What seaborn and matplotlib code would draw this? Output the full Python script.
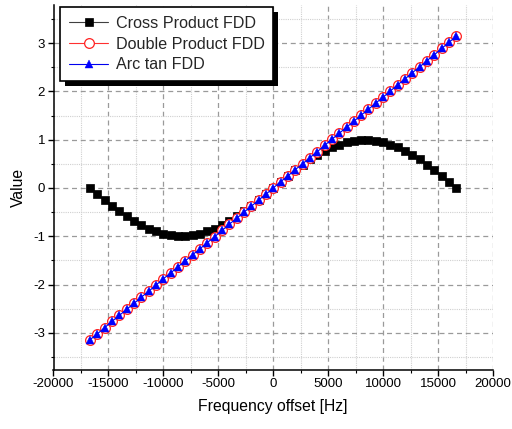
import matplotlib
matplotlib.use("Agg")
import matplotlib.pyplot as plt
from matplotlib.patches import Rectangle
from matplotlib.ticker import MultipleLocator
import numpy as np
import pandas as pd
import seaborn as sns

# Frequency offsets (Hz)
freq = [-16667, -16000, -15333, -14667, -14000, -13333, -12667, -12000, -11333,
        -10667, -10000, -9333, -8667, -8000, -7333, -6667, -6000, -5333, -4667,
        -4000, -3333, -2667, -2000, -1333, -667, 0, 667, 1333, 2000, 2667, 3333,
        4000, 4667, 5333, 6000, 6667, 7333, 8000, 8667, 9333, 10000, 10667,
        11333, 12000, 12667, 13333, 14000, 14667, 15333, 16000, 16667]

cross_product = [0.00, -0.13, -0.25, -0.37, -0.48, -0.59, -0.68, -0.77, -0.84,
                 -0.90, -0.95, -0.98, -1.00, -1.00, -0.98, -0.95, -0.90, -0.84,
                 -0.77, -0.68, -0.59, -0.48, -0.37, -0.25, -0.13, 0.00, 0.13,
                 0.25, 0.37, 0.48, 0.59, 0.68, 0.77, 0.84, 0.90, 0.95, 0.98,
                 1.00, 1.00, 0.98, 0.95, 0.90, 0.84, 0.77, 0.68, 0.59, 0.48,
                 0.37, 0.25, 0.13, 0.00]

double_product = [-3.14, -3.02, -2.89, -2.76, -2.64, -2.51, -2.39, -2.26, -2.14,
                  -2.01, -1.88, -1.76, -1.63, -1.51, -1.38, -1.26, -1.13, -1.01,
                  -0.88, -0.75, -0.63, -0.50, -0.38, -0.25, -0.13, 0.00, 0.13,
                  0.25, 0.38, 0.50, 0.63, 0.75, 0.88, 1.01, 1.13, 1.26, 1.38,
                  1.51, 1.63, 1.76, 1.88, 2.01, 2.14, 2.26, 2.39, 2.51, 2.64,
                  2.76, 2.89, 3.02, 3.14]

arc_tan = [-3.14, -3.02, -2.89, -2.76, -2.64, -2.51, -2.39, -2.26, -2.14,
           -2.01, -1.88, -1.76, -1.63, -1.51, -1.38, -1.26, -1.13, -1.01,
           -0.88, -0.75, -0.63, -0.50, -0.38, -0.25, -0.13, 0.00, 0.13,
           0.25, 0.38, 0.50, 0.63, 0.75, 0.88, 1.01, 1.13, 1.26, 1.38,
           1.51, 1.63, 1.76, 1.88, 2.01, 2.14, 2.26, 2.39, 2.51, 2.64,
           2.76, 2.89, 3.02, 3.14]

x_ticks = [-20000, -15000, -10000, -5000, 0, 5000, 10000, 15000, 20000]
y_ticks = [-3, -2, -1, 0, 1, 2, 3]

sns.set_theme(style="ticks")
plt.rcParams["font.family"] = ["Liberation Sans", "DejaVu Sans"]
plt.rcParams["axes.unicode_minus"] = False

df = pd.DataFrame({"freq": freq, "cross": cross_product,
                   "double": double_product, "atan": arc_tan})

fig = plt.figure(figsize=(5.12, 4.29), dpi=100)
ax = fig.add_axes([53.5 / 512, 59 / 429, (493 - 53.5) / 512, (370 - 5) / 429])

sns.lineplot(data=df, x="freq", y="cross", ax=ax, color="#404040", lw=0.8,
             marker="s", markersize=5.2, markerfacecolor="black",
             markeredgecolor="black", markeredgewidth=0.5,
             label="Cross Product FDD", zorder=3)
sns.lineplot(data=df, x="freq", y="double", ax=ax, color="#ff3030", lw=0.8,
             marker="o", markersize=7, markerfacecolor="white",
             markeredgecolor="#ff2020", markeredgewidth=0.9,
             label="Double Product FDD", zorder=4)
sns.lineplot(data=df, x="freq", y="atan", ax=ax, color="#0000ee", lw=0.8,
             marker="^", markersize=5.5, markerfacecolor="#0000ff",
             markeredgecolor="#0000ff", markeredgewidth=0.3,
             label="Arc tan FDD", zorder=5)

ax.set_xlim(-20000, 20000)
ax.set_ylim(-3.77, 3.79)
ax.set_xticks(x_ticks)
ax.set_xticklabels([str(v) for v in x_ticks])
ax.set_yticks(y_ticks)
ax.set_yticklabels([str(v) for v in y_ticks])
ax.xaxis.set_minor_locator(MultipleLocator(2500))
ax.yaxis.set_minor_locator(MultipleLocator(0.5))

ax.grid(which="major", color="#9a9a9a", linestyle=(0, (4, 3)), linewidth=0.9)
ax.grid(which="minor", color="#d0d0d0", linestyle=(0, (1, 1)), linewidth=0.8)
ax.set_axisbelow(True)

for side in ("top", "right"):
    ax.spines[side].set_visible(False)
for side in ("left", "bottom"):
    ax.spines[side].set_color("black")
    ax.spines[side].set_linewidth(1.1)

ax.tick_params(which="major", direction="out", length=4, width=1, labelsize=9.5,
               colors="black", pad=2)
ax.tick_params(which="minor", direction="out", length=2.5, width=0.8,
               colors="black")

ax.set_xlabel("Frequency offset [Hz]", fontsize=11.3, color="black", labelpad=6)
ax.set_ylabel("Value", fontsize=11.3, color="black", labelpad=5)

leg = ax.legend(loc="upper left", bbox_to_anchor=(6.5 / 439.5, 1 - 2 / 365),
                borderaxespad=0, fontsize=11.6, frameon=True, fancybox=False,
                edgecolor="black", framealpha=1, numpoints=1,
                handlelength=2.45, handletextpad=0.45, labelspacing=0.36,
                borderpad=0.55)
leg.get_frame().set_linewidth(1.2)
leg.set_zorder(10)

# solid drop shadow behind the legend box
fig.canvas.draw()
bb = leg.get_window_extent()
shadow = Rectangle((bb.x0 + 5, bb.y0 - 5), bb.width, bb.height,
                   transform=None, facecolor="black", edgecolor="none",
                   zorder=9)
ax.add_artist(shadow)
shadow.set_clip_on(False)

fig.savefig("out.png", dpi=100)
